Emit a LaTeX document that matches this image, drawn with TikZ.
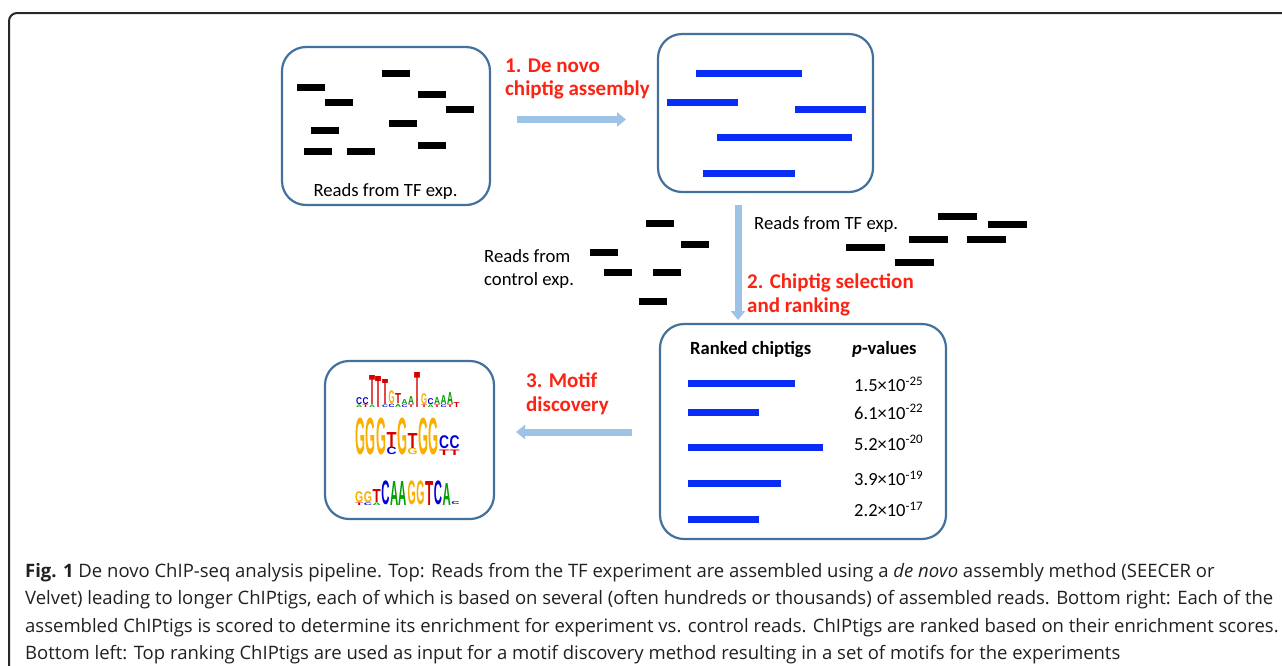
\documentclass[tikz,border=0pt]{standalone}
\usepackage{fontspec}
\setmainfont{Carlito}
\newfontfamily\capfont{Open Sans}
\newfontfamily\logofont{Liberation Sans}
\usetikzlibrary{arrows.meta}
\definecolor{boxblue}{RGB}{65,113,156}
\definecolor{arrowblue}{RGB}{157,195,230}
\definecolor{lblred}{RGB}{250,35,20}
\definecolor{barblue}{RGB}{10,45,245}
\definecolor{framegray}{RGB}{40,40,40}
\definecolor{capgray}{RGB}{35,31,32}
\definecolor{nA}{RGB}{0,160,0}
\definecolor{nC}{RGB}{0,0,215}
\definecolor{nG}{RGB}{250,175,0}
\definecolor{nT}{RGB}{215,0,0}
\newcounter{lgc}
\newcommand\lgl[6]{\stepcounter{lgc}\node[name=lg\arabic{lgc}, anchor=south west, inner sep=0pt, outer sep=0pt] at (#1,#2) {\resizebox*{#3pt}{#4pt}{\color{#5}\logofont\bfseries #6}};}
\begin{document}
\begin{tikzpicture}[x=1pt,y=-1pt,
  box/.style={draw=boxblue, line width=2.2pt, rounded corners=24pt, inner sep=0pt, fill=white},
  flow/.style={draw=arrowblue, line width=7pt, -{Triangle[length=9pt,width=14pt]}},
  rlbl/.style={text=lblred, font=\fontsize{21}{24}\selectfont\bfseries, anchor=base west, inner sep=0pt},
  blbl/.style={font=\fontsize{18.7}{22}\selectfont, anchor=base west, inner sep=0pt},
  bhead/.style={font=\fontsize{18.6}{22}\selectfont\bfseries, anchor=base west, inner sep=0pt},
  pval/.style={font=\fontsize{18.5}{22}\selectfont, anchor=base west, inner sep=0pt},
  clbl/.style={font=\capfont\fontsize{18.5}{27}\selectfont, text=capgray, anchor=base west, inner sep=0pt},
  rd/.style={fill=black},
  cg/.style={fill=barblue}]
\useasboundingbox (0,0) rectangle (1282,665);
% outer frame
\draw[framegray, line width=2pt, rounded corners=8pt] (1295,13) -- (9,13) -- (9,680);

% boxes
\node[box, minimum width=208pt, minimum height=158pt] (reads) at (386,126) {};
\node[box, minimum width=215pt, minimum height=158pt] (tigs) at (765.5,113) {};
\node[box, minimum width=286pt, minimum height=215pt] (ranked) at (803,431.5) {};
\node[box, minimum width=169pt, minimum height=158pt] (motifs) at (409.5,440) {};

% reads in left box
\foreach \x/\y in {297/84,325/99,382/70,418/91,446/106,389/120,311/127,304/148,347/148,418/142}
  \fill[rd] (\x,\y) rectangle ++(28,6.5);
\node[blbl, anchor=base] (readslbl) at (385.5,196.5) {Reads from TF exp.};

% chiptigs in top right box
\foreach \a/\b/\y in {696/802/70,667/738/99,795/866/106,717/852/134,703/795/170}
  \fill[cg] (\a,\y) rectangle (\b,\y+7);

% arrow 1
\coordinate (a1s) at (517,119.5);
\coordinate (a1e) at (626,119.5);
\draw[flow] (a1s) -- (a1e);
\node[rlbl] (l1a) at (505,72) {1. De novo};
\node[rlbl] (l1b) at (505,95.5) {chiptig assembly};

% arrow 2
\coordinate (a2s) at (738,205);
\coordinate (a2e) at (738,320);
\draw[flow] (a2s) -- (a2e);
\node[rlbl] (l2a) at (747,288) {2. Chiptig selection};
\node[rlbl] (l2b) at (747,312) {and ranking};

% control reads
\foreach \x/\y in {646/220,681/241,590/249,604/269,653/269,639/298}
  \fill[rd] (\x,\y) rectangle ++(28,6.5);
\node[blbl] (ctl1) at (484,262) {Reads from};
\node[blbl] (ctl2) at (484,285) {control exp.};

% TF reads (middle right)
\foreach \x/\y in {938/213,988/221,909/236,967/236,846/244,895/259}
  \fill[rd] (\x,\y) rectangle ++(38.5,7);
\node[blbl] (tf2) at (754,229) {Reads from TF exp.};

% ranked box content
\node[bhead] (rkh) at (690,354) {Ranked chiptigs};
\node[bhead] (pvh) at (852,354) {\textit{p}-values};
\foreach \b/\y in {795/380,759/409,823/444,781/480,759/516}
  \fill[cg] (688,\y) rectangle (\b,\y+7);
\node[pval] (p1) at (854,391.5) {1.5×10\textsuperscript{-25}};
\node[pval] (p2) at (854,419) {6.1×10\textsuperscript{-22}};
\node[pval] (p3) at (854,450) {5.2×10\textsuperscript{-20}};
\node[pval] (p4) at (854,485.5) {3.9×10\textsuperscript{-19}};
\node[pval] (p5) at (854,516.5) {2.2×10\textsuperscript{-17}};

% arrow 3
\coordinate (a3s) at (632,432);
\coordinate (a3e) at (516,432);
\draw[flow] (a3s) -- (a3e);
\node[rlbl] (l3a) at (526,387.5) {3. Motif};
\node[rlbl] (l3b) at (526,411.5) {discovery};

% motif logo row 1
\lgl{356}{407.5}{6}{2.6}{nA}{A}\lgl{356}{404.5}{6}{7}{nC}{C}
\lgl{362.5}{407.5}{6}{2.6}{nT}{T}\lgl{362.5}{404.5}{6}{7}{nC}{C}
\lgl{369}{407.5}{6}{2.6}{nA}{A}\lgl{369}{404.5}{6}{29}{nT}{T}
\lgl{375.5}{407.5}{6}{31}{nT}{T}
\lgl{382}{407.5}{6}{2.6}{nC}{C}\lgl{382}{404.5}{6}{25}{nT}{T}
\lgl{388.5}{407.5}{6}{3.4}{nC}{C}\lgl{388.5}{403.7}{6}{13}{nG}{G}
\lgl{395}{407.5}{6}{3.4}{nA}{A}\lgl{395}{403.7}{6}{10}{nT}{T}
\lgl{401.5}{407.5}{6}{2.6}{nC}{C}\lgl{401.5}{404.5}{6}{5}{nA}{A}
\lgl{408}{407.5}{6}{2.6}{nT}{T}\lgl{408}{404.5}{6}{8}{nA}{A}
\lgl{414.5}{407.5}{6}{35}{nT}{T}
\lgl{421}{407.5}{6}{2.6}{nT}{T}\lgl{421}{404.5}{6}{11}{nG}{G}
\lgl{427.5}{407.5}{6}{2.6}{nA}{A}\lgl{427.5}{404.5}{6}{6}{nC}{C}
\lgl{434}{407.5}{6}{2.6}{nT}{T}\lgl{434}{404.5}{6}{7}{nA}{A}
\lgl{440.5}{407.5}{6}{2.6}{nC}{C}\lgl{440.5}{404.5}{6}{9}{nA}{A}
\lgl{447}{407.5}{6}{2.6}{nT}{T}\lgl{447}{404.5}{6}{12}{nA}{A}
\lgl{453.5}{407.5}{6}{5}{nT}{T}
% row 2
\lgl{355}{455}{10}{37}{nG}{G}
\lgl{365.5}{455}{10}{37}{nG}{G}
\lgl{376}{455}{10}{37}{nG}{G}
\lgl{386.5}{455}{10}{7.5}{nC}{C}\lgl{386.5}{447}{10}{15}{nT}{T}
\lgl{397}{455}{10}{37}{nG}{G}
\lgl{407.5}{455}{10}{6.5}{nG}{G}\lgl{407.5}{448}{10}{15}{nT}{T}
\lgl{418}{455}{10}{37}{nG}{G}
\lgl{428.5}{455}{10}{37}{nG}{G}
\lgl{439}{455}{10}{5.5}{nT}{T}\lgl{439}{449}{10}{13}{nC}{C}
\lgl{449.5}{455}{10}{5.5}{nT}{T}\lgl{449.5}{449}{10}{13}{nC}{C}
% row 3
\lgl{355}{505.5}{8.2}{2.6}{nT}{T}\lgl{355}{502.5}{8.2}{11}{nG}{G}
\lgl{363.75}{505.5}{8.2}{2.6}{nC}{C}\lgl{363.75}{502.5}{8.2}{11}{nG}{G}
\lgl{372.5}{505.5}{8.2}{2.6}{nA}{A}\lgl{372.5}{502.5}{8.2}{13}{nT}{T}
\lgl{381.25}{505}{8.2}{24}{nC}{C}
\lgl{390}{505}{8.2}{24}{nA}{A}
\lgl{398.75}{505}{8.2}{24}{nA}{A}
\lgl{407.5}{505}{8.2}{24}{nG}{G}
\lgl{416.25}{505}{8.2}{24}{nG}{G}
\lgl{425}{505}{8.2}{24}{nT}{T}
\lgl{433.75}{505}{8.2}{24}{nC}{C}
\lgl{442.5}{505}{8.2}{22}{nA}{A}
\lgl{451.25}{505}{8.2}{3}{nC}{C}

% caption
\node[clbl] (cap1) at (25,577) {\textbf{Fig. 1} De novo ChIP-seq analysis pipeline. Top: Reads from the TF experiment are assembled using a \textit{de novo} assembly method (SEECER or};
\node[clbl] (cap2) at (25,604.5) {Velvet) leading to longer ChIPtigs, each of which is based on several (often hundreds or thousands) of assembled reads. Bottom right: Each of the};
\node[clbl] (cap3) at (25,632) {assembled ChIPtigs is scored to determine its enrichment for experiment vs. control reads. ChIPtigs are ranked based on their enrichment scores.};
\node[clbl] (cap4) at (25,659) {Bottom left: Top ranking ChIPtigs are used as input for a motif discovery method resulting in a set of motifs for the experiments};
\end{tikzpicture}
\end{document}
